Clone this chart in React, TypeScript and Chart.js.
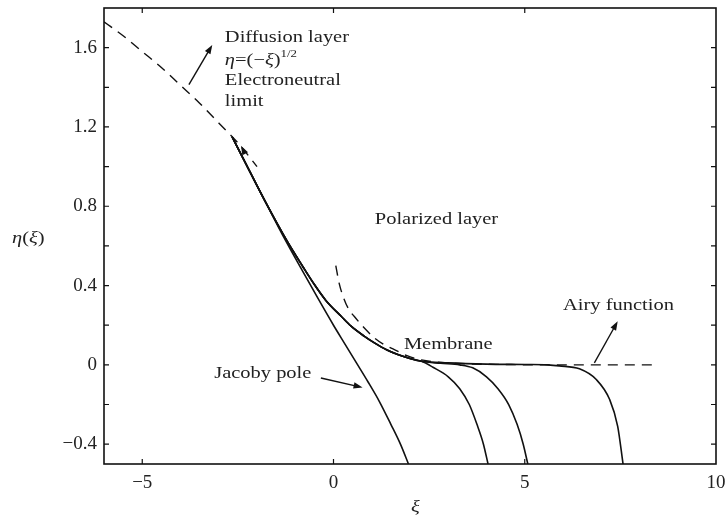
import React, { useEffect, useRef } from "react";
import { Chart, registerables } from "chart.js";

Chart.register(...registerables);

// ---- axes ----
const X_MIN = -6;
const X_MAX = 10;
const Y_MIN = -0.5;
const Y_MAX = 1.8;
const xTickValues = [-5, 0, 5, 10];
const yTickValues = [-0.4, -0.2, 0, 0.2, 0.4, 0.6, 0.8, 1.0, 1.2, 1.4, 1.6];
const yLabelValues = [-0.4, 0, 0.4, 0.8, 1.2, 1.6];

// ---- dashed: diffusion layer, eta = (-xi)^(1/2) limit ----
const diffusionX = [-6.0, -5.5, -5.0, -4.5, -4.0, -3.5, -3.0, -2.5, -2.0];
const diffusionY = [1.73, 1.66, 1.58, 1.5, 1.41, 1.32, 1.22, 1.12, 1.0];

// ---- dashed: Airy function / membrane ----
const airyX = [0.06, 0.15, 0.28, 0.4, 0.54, 0.8, 1.07, 1.3, 1.59, 1.94, 2.3, 2.8, 3.5, 4.5, 5.5, 8.4];
const airyY = [0.5, 0.41, 0.33, 0.28, 0.245, 0.187, 0.136, 0.105, 0.077, 0.045, 0.025, 0.012, 0.005, 0.002, 0.0, 0.0];

// ---- solid: common trunk ----
const trunkX = [-2.65, -2.2, -1.8];
const trunkY = [1.15, 0.98, 0.83];

// ---- solid: Jacoby pole branch ----
const jacobyX = [-1.29, -0.8, -0.42, 0, 0.3, 0.6, 0.9, 1.2, 1.5, 1.75, 1.96];
const jacobyY = [0.64, 0.47, 0.34, 0.2, 0.105, 0.01, -0.085, -0.185, -0.3, -0.4, -0.5];

// ---- solid: upper trunk (polarized layer) ----
const upperX = [-1.2, -0.8, -0.5, -0.2, 0.2, 0.46, 0.8, 1.07, 1.4, 1.68, 2.0, 2.3];
const upperY = [0.62, 0.495, 0.405, 0.325, 0.245, 0.195, 0.145, 0.111, 0.075, 0.052, 0.032, 0.018];

// ---- solid: three branches leaving the membrane plateau ----
const branch2X = [2.6, 3.0, 3.3, 3.55, 3.75, 3.92, 4.04];
const branch2Y = [-0.012, -0.06, -0.12, -0.2, -0.3, -0.4, -0.5];
const branch3X = [2.8, 3.3, 3.64, 4.0, 4.3, 4.58, 4.8, 4.96, 5.08];
const branch3Y = [0.008, 0.0, -0.015, -0.06, -0.12, -0.2, -0.3, -0.4, -0.5];
const branch4X = [3.0, 4.0, 5.0, 5.6, 5.9, 6.43, 6.87, 7.22, 7.43, 7.57];
const branch4Y = [0.01, 0.004, 0.002, 0.0, -0.005, -0.02, -0.074, -0.175, -0.31, -0.5];

// ---- annotations ----
const noteTexts = ["Diffusion layer", "Electroneutral", "limit", "Polarized layer", "Membrane", "Airy function", "Jacoby pole"];
const noteX = [-2.84, -2.84, -2.84, 1.08, 1.84, 6.0, -3.12];
const noteY = [1.626, 1.413, 1.308, 0.7125, 0.081, 0.279, -0.066];
const formulaPos = [-2.84, 1.51];
const arrowTailX = [-3.78, -0.33, 6.82, -2.3];
const arrowTailY = [1.413, -0.066, 0.01, 1.062];
const arrowHeadX = [-3.17, 0.76, 7.43, -2.42];
const arrowHeadY = [1.614, -0.114, 0.22, 1.105];

const INK = "#111";
const TEXT = "#222";
const SERIF = '"Liberation Serif", "Times New Roman", serif';
const SX = 1.17;

const pts = (xs: number[], ys: number[]) => xs.map((x, i) => ({ x, y: ys[i] }));

const fmt = (v: number, digits: number) => {
  if (Math.abs(v) < 1e-9) return "0";
  const s = Math.abs(v).toFixed(digits);
  return v < 0 ? "\u2212" + s : s;
};

type Run = { t: string; italic?: boolean; size?: number; dy?: number };

function drawRuns(ctx: CanvasRenderingContext2D, runs: Run[], x: number, y: number) {
  let cx = x;
  for (const r of runs) {
    ctx.font = `${r.italic ? "italic " : ""}${r.size || 17.5}px ${SERIF}`;
    ctx.save();
    ctx.translate(cx, y + (r.dy || 0));
    ctx.scale(SX, 1);
    ctx.textAlign = "left";
    ctx.textBaseline = "alphabetic";
    ctx.fillText(r.t, 0, 0);
    ctx.restore();
    cx += ctx.measureText(r.t).width * SX;
  }
}

function arrow(ctx: CanvasRenderingContext2D, x1: number, y1: number, x2: number, y2: number, headOnly: boolean) {
  const a = Math.atan2(y2 - y1, x2 - x1);
  const L = 9;
  const W = 3.2;
  if (!headOnly) {
    ctx.beginPath();
    ctx.moveTo(x1, y1);
    ctx.lineTo(x2 - Math.cos(a) * 4, y2 - Math.sin(a) * 4);
    ctx.stroke();
  }
  ctx.beginPath();
  ctx.moveTo(x2, y2);
  ctx.lineTo(x2 - L * Math.cos(a) + W * Math.sin(a), y2 - L * Math.sin(a) - W * Math.cos(a));
  ctx.lineTo(x2 - L * Math.cos(a) - W * Math.sin(a), y2 - L * Math.sin(a) + W * Math.cos(a));
  ctx.closePath();
  ctx.fill();
}

const decorPlugin = {
  id: "decor",
  afterDatasetsDraw(chart: any) {
    const { ctx, chartArea, scales } = chart;
    const { left, right, top, bottom } = chartArea;
    const xs = scales.x;
    const ys = scales.y;
    ctx.save();
    // frame
    ctx.strokeStyle = INK;
    ctx.lineWidth = 1.6;
    ctx.strokeRect(left, top, right - left, bottom - top);
    // inward ticks
    ctx.lineWidth = 1.2;
    for (const v of xTickValues) {
      const px = xs.getPixelForValue(v);
      if (px < left + 2 || px > right - 2) continue;
      ctx.beginPath();
      ctx.moveTo(px, bottom);
      ctx.lineTo(px, bottom - 5);
      ctx.moveTo(px, top);
      ctx.lineTo(px, top + 5);
      ctx.stroke();
    }
    for (const v of yTickValues) {
      const py = ys.getPixelForValue(v);
      ctx.beginPath();
      ctx.moveTo(left, py);
      ctx.lineTo(left + 5, py);
      ctx.moveTo(right, py);
      ctx.lineTo(right - 5, py);
      ctx.stroke();
    }
    // arrows
    ctx.fillStyle = INK;
    ctx.lineWidth = 1.4;
    for (let i = 0; i < arrowTailX.length; i++) {
      arrow(
        ctx,
        xs.getPixelForValue(arrowTailX[i]),
        ys.getPixelForValue(arrowTailY[i]),
        xs.getPixelForValue(arrowHeadX[i]),
        ys.getPixelForValue(arrowHeadY[i]),
        i === 3
      );
    }
    // notes
    ctx.fillStyle = TEXT;
    for (let i = 0; i < noteTexts.length; i++) {
      drawRuns(ctx, [{ t: noteTexts[i] }], xs.getPixelForValue(noteX[i]), ys.getPixelForValue(noteY[i]));
    }
    drawRuns(
      ctx,
      [
        { t: "\u03b7", italic: true },
        { t: "=" },
        { t: "(\u2212" },
        { t: "\u03be", italic: true },
        { t: ")" },
        { t: "1/2", size: 11, dy: -8 },
      ],
      xs.getPixelForValue(formulaPos[0]),
      ys.getPixelForValue(formulaPos[1])
    );
    // axis titles
    drawRuns(
      ctx,
      [{ t: "\u03b7", italic: true }, { t: "(" }, { t: "\u03be", italic: true }, { t: ")" }],
      12,
      (top + bottom) / 2 + 7
    );
    drawRuns(ctx, [{ t: "\u03be", italic: true }], (left + right) / 2 + 1, 512);
    ctx.restore();
  },
};

export default function App() {
  const ref = useRef<HTMLCanvasElement>(null);
  useEffect(() => {
    const solid = (label: string, data: { x: number; y: number }[]) => ({
      label,
      data,
      showLine: true,
      borderColor: INK,
      borderWidth: 1.6,
      pointRadius: 0,
      cubicInterpolationMode: "monotone" as const,
      fill: false,
    });
    const dashed = (label: string, data: { x: number; y: number }[]) => ({
      ...solid(label, data),
      borderWidth: 1.4,
      borderDash: [10, 7],
    });
    const trunk = pts(trunkX, trunkY);
    const upper = pts(upperX, upperY);
    const chart = new Chart(ref.current as HTMLCanvasElement, {
      type: "scatter",
      data: {
        datasets: [
          dashed("Diffusion layer", pts(diffusionX, diffusionY)),
          dashed("Airy function", pts(airyX, airyY)),
          solid("Jacoby pole", [...trunk, ...pts(jacobyX, jacobyY)]),
          solid("Branch 2", [...trunk, ...upper, ...pts(branch2X, branch2Y)]),
          solid("Branch 3", [...trunk, ...upper, ...pts(branch3X, branch3Y)]),
          solid("Branch 4", [...trunk, ...upper, ...pts(branch4X, branch4Y)]),
        ] as any,
      },
      options: {
        animation: false,
        responsive: false,
        layout: { padding: { left: 0, right: 12, top: 8, bottom: 0 } },
        plugins: { legend: { display: false }, tooltip: { enabled: false } },
        events: [],
        scales: {
          x: {
            type: "linear",
            min: X_MIN,
            max: X_MAX,
            grid: { display: false, drawTicks: false },
            border: { display: false },
            afterBuildTicks: (s: any) => {
              s.ticks = xTickValues.map((v) => ({ value: v }));
            },
            afterFit: (s: any) => {
              s.height = 56;
              s.paddingLeft = 0;
              s.paddingRight = 0;
            },
            ticks: {
              autoSkip: false,
              maxRotation: 0,
              padding: 8,
              color: TEXT,
              font: { family: SERIF, size: 19 },
              callback: (v: any) => fmt(Number(v), 0),
            },
          },
          y: {
            type: "linear",
            min: Y_MIN,
            max: Y_MAX,
            grid: { display: false, drawTicks: false },
            border: { display: false },
            afterBuildTicks: (s: any) => {
              s.ticks = yTickValues.map((v) => ({ value: v }));
            },
            afterFit: (s: any) => {
              s.width = 104;
              s.paddingTop = 0;
              s.paddingBottom = 0;
            },
            ticks: {
              autoSkip: false,
              padding: 7,
              color: TEXT,
              font: { family: SERIF, size: 19 },
              callback: (v: any) => {
                const n = Number(v);
                return yLabelValues.some((l) => Math.abs(l - n) < 1e-6) ? fmt(n, 1) : "";
              },
            },
          },
        },
      },
      plugins: [decorPlugin],
    } as any);
    return () => chart.destroy();
  }, []);
  return (
    <div style={{ position: "fixed", left: 0, top: 0, width: 728, height: 520, background: "#fff" }}>
      <canvas ref={ref} width={728} height={520} style={{ display: "block", width: 728, height: 520 }} />
    </div>
  );
}
